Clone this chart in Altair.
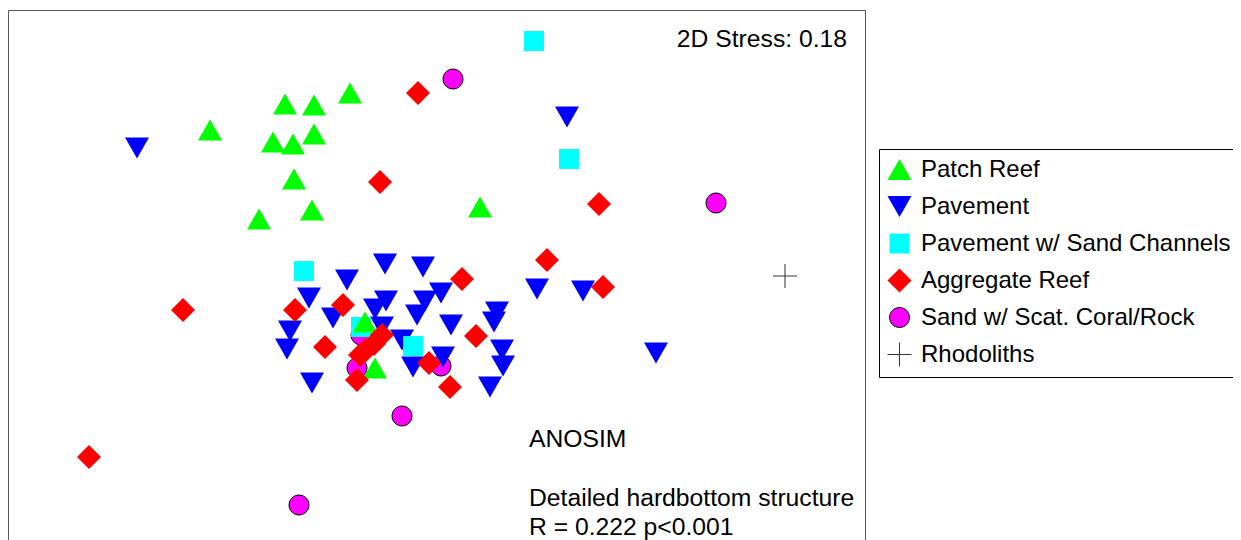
import altair as alt
import pandas as pd

# NMDS ordination coordinates (plot units)
patch_x = [285, 314, 350, 210, 273, 293, 314, 294, 312, 259, 480, 365, 375]
patch_y = [104, 105, 93, 130, 142, 144, 134, 179, 210, 219, 207, 322, 368]

pave_x = [137, 567, 385, 423, 347, 309, 386, 375, 333, 441, 425, 417, 451, 497, 494,
          290, 287, 402, 382, 413, 443, 502, 503, 490, 312, 537, 583, 656]
pave_y = [148, 117, 264, 267, 280, 298, 301, 309, 318, 293, 301, 315, 325, 312, 322,
          331, 349, 340, 327, 367, 357, 350, 366, 387, 383, 289, 291, 353]

chan_x = [534, 569, 304, 361, 413]
chan_y = [41, 159, 271, 327, 346]

aggr_x = [418, 380, 599, 547, 462, 603, 183, 295, 343, 325, 476, 429, 450, 357, 89,
          382, 374, 366, 360]
aggr_y = [93, 182, 204, 260, 279, 287, 310, 310, 305, 347, 336, 363, 387, 380, 457,
          335, 344, 350, 355]

sand_x = [453, 716, 361, 357, 441, 402, 299]
sand_y = [79, 203, 335, 368, 366, 416, 505]

rhodo_x = [785]
rhodo_y = [276]

groups = ["Patch Reef", "Pavement", "Pavement w/ Sand Channels", "Aggregate Reef",
          "Sand w/ Scat. Coral/Rock", "Rhodoliths"]

# drawing order (bottom to top)
series = [
    ("Sand w/ Scat. Coral/Rock", sand_x, sand_y),
    ("Pavement", pave_x, pave_y),
    ("Pavement w/ Sand Channels", chan_x, chan_y),
    ("Patch Reef", patch_x, patch_y),
    ("Aggregate Reef", aggr_x, aggr_y),
    ("Rhodoliths", rhodo_x, rhodo_y),
]
rows = []
order = 0
for g, xs_, ys_ in series:
    for x, y in zip(xs_, ys_):
        rows.append({"group": g, "x": x, "y": y, "order": order})
        order += 1
df = pd.DataFrame(rows)

stress_note = pd.DataFrame([{"text": "2D Stress: 0.18", "x": 847, "y": 47}])
anosim_notes = pd.DataFrame([
    {"text": "ANOSIM", "x": 529, "y": 447},
    {"text": "Detailed hardbottom structure", "x": 529, "y": 506},
    {"text": "R = 0.222 p<0.001", "x": 529, "y": 535},
])

FONT = "Liberation Sans"
FS = 24.7
W, H = 857, 531
xs = alt.Scale(domain=[8, 865], nice=False, zero=False)
ys = alt.Scale(domain=[10, 10 + H], nice=False, zero=False, reverse=True)

shape_range = [
    "triangle-up",
    "triangle-down",
    "M-0.83,-0.83H0.83V0.83H-0.83Z",
    "diamond",
    "M0.83,0A0.83,0.83,0,1,1,-0.83,0A0.83,0.83,0,1,1,0.83,0Z",
    "M-1,0H1M0,-1V1",
]
fill_range = ["#00ff00", "#0000ff", "#00ffff", "#ff0000", "#ff00ff", "transparent"]
stroke_range = ["transparent", "transparent", "transparent", "transparent", "#000000", "#333333"]

legend = alt.Legend(
    title=None, orient="none", legendX=871, legendY=139,
    strokeColor="#000000", fillColor="#ffffff", padding=8,
    symbolSize=576, symbolStrokeWidth=1, labelFont=FONT, labelFontSize=24,
    labelColor="#000000", labelOffset=9, rowPadding=8, labelLimit=400,
    gridAlign="all",
)

points = alt.Chart(df).mark_point(filled=True, size=576, opacity=1, strokeWidth=1).encode(
    x=alt.X("x:Q", scale=xs, axis=None),
    y=alt.Y("y:Q", scale=ys, axis=None),
    shape=alt.Shape("group:N", scale=alt.Scale(domain=groups, range=shape_range), legend=legend),
    fill=alt.Fill("group:N", scale=alt.Scale(domain=groups, range=fill_range), legend=legend),
    stroke=alt.Stroke("group:N", scale=alt.Scale(domain=groups, range=stroke_range), legend=legend),
    order=alt.Order("order:Q"),
)

stress = alt.Chart(stress_note).mark_text(
    font=FONT, fontSize=FS, color="#000000", baseline="alphabetic", align="right"
).encode(
    x=alt.X("x:Q", scale=xs, axis=None),
    y=alt.Y("y:Q", scale=ys, axis=None),
    text="text:N",
)

anosim = alt.Chart(anosim_notes).mark_text(
    font=FONT, fontSize=FS, color="#000000", baseline="alphabetic", align="left"
).encode(
    x=alt.X("x:Q", scale=xs, axis=None),
    y=alt.Y("y:Q", scale=ys, axis=None),
    text="text:N",
)

chart = alt.layer(points, stress, anosim).properties(
    width=W, height=H,
    autosize=alt.AutoSizeParams(type="none"),
    padding={"left": 0, "top": 2, "right": 368, "bottom": 0},
).configure_view(stroke="#555555", strokeWidth=1)

chart.save("out.html", embed_options={"renderer": "svg", "actions": False})
